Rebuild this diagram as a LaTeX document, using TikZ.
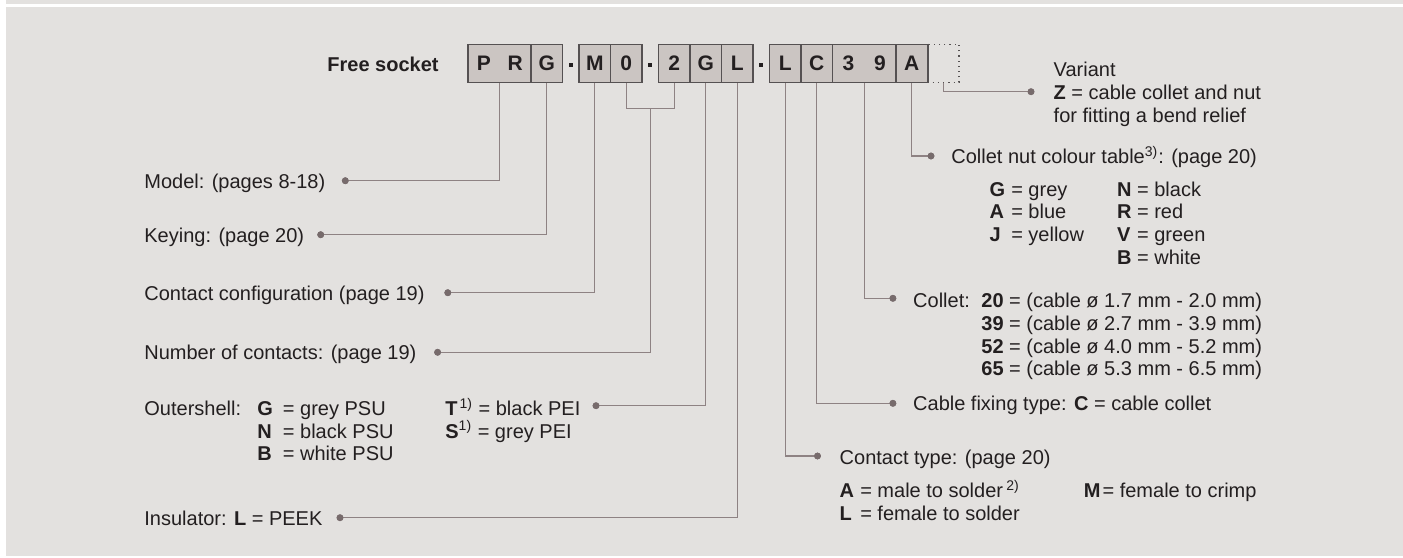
\documentclass[tikz,border=0pt]{standalone}
\usepackage{fontspec}
\setmainfont{Liberation Sans}
\definecolor{panel}{HTML}{E3E1DF}
\definecolor{boxfill}{HTML}{CBC5C2}
\definecolor{boxline}{HTML}{555152}
\definecolor{leadcol}{HTML}{8E8283}
\definecolor{dotcol}{HTML}{776B6C}
\definecolor{txt}{HTML}{231F20}
\tikzset{
  cell/.style={draw=boxline, fill=boxfill, line width=0.6pt, minimum width=15.75pt, minimum height=19pt, inner sep=0pt, text=txt, font=\fontsize{10.5}{12}\selectfont\bfseries},
  dcell/.style={cell, minimum width=31.5pt},
  vcell/.style={draw=boxline, dotted, line width=0.6pt, minimum width=15.75pt, minimum height=19pt, inner sep=0pt},
  sep/.style={fill=txt, minimum size=2pt, inner sep=0pt, rectangle},
  lbl/.style={anchor=base west, inner sep=0pt, text=txt, font=\fontsize{10}{12}\selectfont},
  lead/.style={draw=leadcol, line width=0.7pt},
  pin/.style={circle, fill=dotcol, minimum size=3.4pt, inner sep=0pt},
}
\newcommand{\twochars}[2]{\makebox[15.75pt]{#1}\makebox[15.75pt]{#2}}
\begin{document}
\begin{tikzpicture}[x=0.5pt,y=-0.5pt]
\useasboundingbox (0,0) rectangle (1403,557);
\fill[white] (0,0) rectangle (1403,557);
\fill[panel] (6,0) rectangle (1403,4);
\fill[panel] (6,7) rectangle (1403,556);

% title
\node[lbl, anchor=base east, font=\fontsize{10}{12}\selectfont\bfseries] (title) at (439,71) {Free socket};

% code boxes
\node[dcell] (bPR) at (499.5,63.3) {\twochars{P}{R}};
\node[cell] (bG) at (546.75,63.3) {G};
\node[sep] (s1) at (570.75,64.5) {};
\node[cell] (bM) at (594.75,63.3) {M};
\node[cell] (b0) at (626.25,63.3) {0};
\node[sep] (s2) at (650.25,64.5) {};
\node[cell] (b2) at (674.25,63.3) {2};
\node[cell] (bG2) at (705.75,63.3) {G};
\node[cell] (bL) at (737.25,63.3) {L};
\node[sep] (s3) at (761.25,64.5) {};
\node[cell] (bL2) at (785.25,63.3) {L};
\node[cell] (bC) at (816.75,63.3) {C};
\node[dcell] (b39) at (864.25,63.3) {\twochars{3}{9}};
\node[cell] (bA) at (911.75,63.3) {A};
\node[vcell] (bV) at (943.25,63.3) {};
\draw[boxline, line width=0.6pt] (bA.north east) -- (bA.south east);

% left labels
\node[lbl] (tModel) at (144,188.3) {Model: (pages 8-18)};
\node[pin] (pModel) at (345.3,180.7) {};
\node[lbl] (tKey) at (144,242.2) {Keying: (page 20)};
\node[pin] (pKey) at (320.7,234.7) {};
\node[lbl] (tConf) at (144,300.2) {Contact configuration (page 19)};
\node[pin] (pConf) at (447.8,292.7) {};
\node[lbl] (tNum) at (144,359.8) {Number of contacts: (page 19)};
\node[pin] (pNum) at (437.6,352.3) {};
\node[lbl] (tOut) at (144,415.5) {Outershell:};
\node[lbl] (tOutG) at (257,415.5) {\makebox[10pt][l]{\textbf{G}} = grey PSU};
\node[lbl] (tOutN) at (257,438.2) {\makebox[10pt][l]{\textbf{N}} = black PSU};
\node[lbl] (tOutB) at (257,460.9) {\makebox[10pt][l]{\textbf{B}} = white PSU};
\node[lbl] (tOutT) at (445,415.5) {\textbf{T}\hspace{1pt}\textsuperscript{1)} = black PEI};
\node[lbl] (tOutS) at (445,438.2) {\textbf{S}\textsuperscript{1)} = grey PEI};
\node[pin] (pOut) at (596,405.7) {};
\node[lbl] (tIns) at (144,525) {Insulator: \textbf{L} = PEEK};
\node[pin] (pIns) at (340,517.7) {};

% right labels
\node[lbl] (tVar1) at (1053.3,76.5) {Variant};
\node[lbl] (tVar2) at (1053.3,99.9) {\textbf{Z} = cable collet and nut};
\node[lbl] (tVar3) at (1053.3,122.4) {for fitting a bend relief};
\node[pin] (pVar) at (1031,91.7) {};

\node[lbl] (tNut) at (951,163.3) {Collet nut colour table\textsuperscript{3)}: (page 20)};
\node[pin] (pNut) at (931,156) {};
\node[lbl] (cG) at (989.3,196.2) {\makebox[8pt][l]{\textbf{G}} = grey};
\node[lbl] (cA) at (989.3,218.9) {\makebox[8pt][l]{\textbf{A}} = blue};
\node[lbl] (cJ) at (989.3,241.4) {\makebox[8pt][l]{\textbf{J}} = yellow};
\node[lbl] (cN) at (1116.7,196.2) {\makebox[7.22pt][l]{\textbf{N}} = black};
\node[lbl] (cR) at (1116.7,218.9) {\makebox[7.22pt][l]{\textbf{R}} = red};
\node[lbl] (cV) at (1116.7,241.4) {\makebox[7.22pt][l]{\textbf{V}} = green};
\node[lbl] (cB) at (1116.7,264.0) {\makebox[7.22pt][l]{\textbf{B}} = white};

\node[lbl] (tCol) at (912.8,307.9) {Collet:};
\node[lbl] (tCol1) at (981,307.9) {\textbf{20} = (cable ø 1.7 mm - 2.0 mm)};
\node[lbl] (tCol2) at (981,330.5) {\textbf{39} = (cable ø 2.7 mm - 3.9 mm)};
\node[lbl] (tCol3) at (981,353.0) {\textbf{52} = (cable ø 4.0 mm - 5.2 mm)};
\node[lbl] (tCol4) at (981,375.6) {\textbf{65} = (cable ø 5.3 mm - 6.5 mm)};
\node[pin] (pCol) at (892.9,298.3) {};

\node[lbl] (tFix) at (912.8,410.7) {Cable fixing type: \textbf{C} = cable collet};
\node[pin] (pFix) at (892.9,403.3) {};

\node[lbl] (tCt) at (839.3,464) {Contact type: (page 20)};
\node[pin] (pCt) at (817.5,456) {};
\node[lbl] (tCtA) at (839.3,497.4) {\makebox[7.5pt][l]{\textbf{A}} = male to solder\,\textsuperscript{2)}};
\node[lbl] (tCtL) at (839.3,520.3) {\makebox[7.5pt][l]{\textbf{L}} = female to solder};
\node[lbl] (tCtM) at (1083.5,497.4) {\textbf{M}\hspace{1pt}= female to crimp};

% leads
\coordinate (join) at (650.25,108.3);
\draw[lead] (bPR.south) |- (pModel.center);
\draw[lead] (bG.south) |- (pKey.center);
\draw[lead] (bM.south) |- (pConf.center);
\draw[lead] (b0.south) |- (join) -| (b2.south);
\draw[lead] (join) |- (pNum.center);
\draw[lead] (bG2.south) |- (pOut.center);
\draw[lead] (bL.south) |- (pIns.center);
\draw[lead] (bL2.south) |- (pCt.center);
\draw[lead] (bC.south) |- (pFix.center);
\draw[lead] (b39.south) |- (pCol.center);
\draw[lead] (bA.south) |- (pNut.center);
\draw[lead] (bV.south) |- (pVar.center);
\foreach \p in {pModel,pKey,pConf,pNum,pOut,pIns,pVar,pNut,pCol,pFix,pCt} \node[pin] at (\p) {};
\end{tikzpicture}
\end{document}
